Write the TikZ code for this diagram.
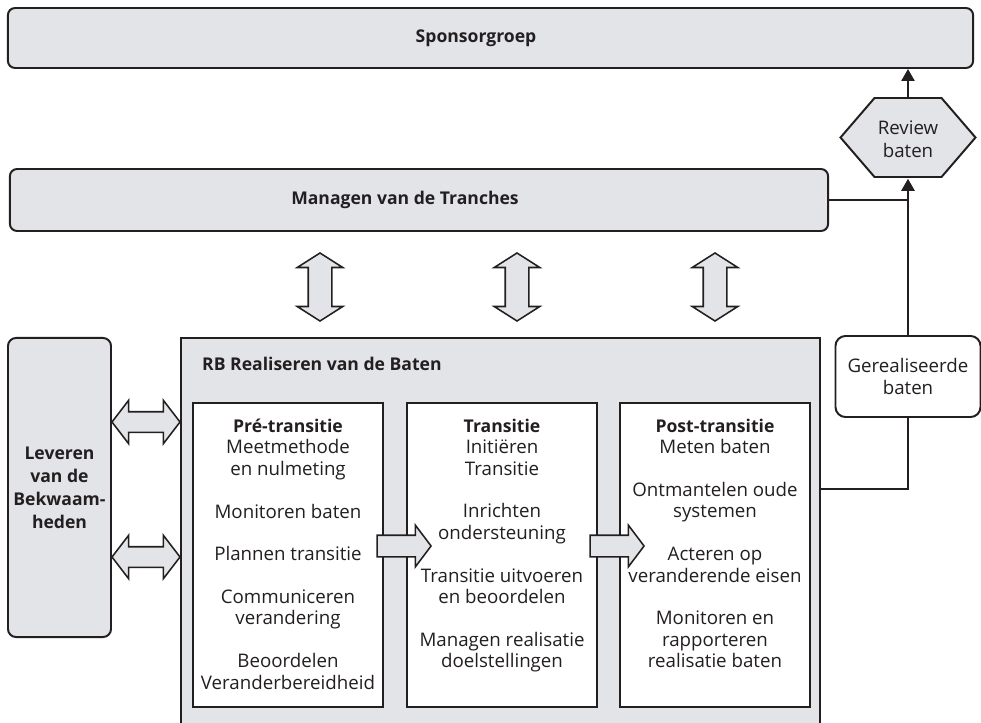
\documentclass[tikz,border=0pt]{standalone}
\usepackage{fontspec}
\setmainfont{Open Sans}
\usetikzlibrary{arrows.meta, positioning, shapes.arrows}

\definecolor{boxgray}{RGB}{227,228,232}
\definecolor{ink}{RGB}{35,31,32}
\newcommand{\phasehead}[1]{{\fontsize{12.5}{15.2}\selectfont\bfseries #1}}

\begin{document}
\begin{tikzpicture}[
    x=0.025cm, y=-0.025cm,
    % GLOBAL CFG
    color=ink,
    font=\fontsize{13.3}{15.2}\selectfont,
    >={Triangle[length=0.3cm, width=0.33cm]},
    % Styles
    band/.style={% grey rounded bars and blocks
        rectangle,
        rounded corners=0.18cm,
        draw,
        fill=boxgray,
        line width=1.4pt,
        },
    bandtext/.style={% bold headings
        font=\fontsize{12.5}{16.3}\selectfont\bfseries,
        align=center,
        inner sep=0pt,
        },
    plaintext/.style={% two-line labels
        font=\fontsize{13.3}{16.3}\selectfont,
        align=center,
        },
    phase/.style={% white boxes for the phases
        rectangle,
        draw,
        fill=white,
        line width=1.4pt,
        minimum width=4.75cm,
        minimum height=7.6cm,
        },
    phasetext/.style={% text list inside a phase box
        align=center,
        inner sep=0pt,
        },
    flow/.style={% grey arrow from phase to phase
        single arrow,
        draw,
        fill=boxgray,
        line width=1.1pt,
        minimum height=1.35cm,
        inner xsep=0pt,
        inner ysep=0.25cm,
        single arrow head extend=0.25cm,
        single arrow tip angle=106,
        },
    exchange/.style={% grey two-way arrows
        double arrow,
        draw,
        fill=boxgray,
        line width=1.1pt,
        minimum height=1.7cm,
        inner xsep=0pt,
        inner ysep=0.275cm,
        double arrow head extend=0.275cm,
        double arrow tip angle=115,
        },
    link/.style={% plain connectors
        line width=1.4pt,
        },
    ]

\useasboundingbox (0,0) rectangle (981,723);

    % Top bars
    \node [band, minimum width=24.125cm, minimum height=1.5cm] (sponsor) at (490.5,38) {};
    \node [bandtext] (sponsorlbl) at (476,38) {Sponsorgroep};
    \node [band, minimum width=20.45cm, minimum height=1.55cm] (tranches) at (419,200) {};
    \node [bandtext] (trancheslbl) at (405,200) {Managen van de Tranches};

    % Review hexagon
    \draw [link, fill=boxgray] (908,137.5) ++(-67.5,0) -- ++(34,-39.5) -- ++(67,0)
        -- ++(34,39.5) -- ++(-34,39.5) -- ++(-67,0) -- cycle;
    \node [plaintext, minimum width=3.375cm, minimum height=1.975cm] (review) at (908,139) {Review\\baten};

    % Realised benefits
    \node [plaintext, rectangle, rounded corners=0.25cm, draw, fill=white, line width=1.4pt,
        minimum width=3.625cm, minimum height=2.025cm] (realised) at (908,376.5) {Gerealiseerde\\baten};

    % Capability delivery block
    \node [band, bandtext, rounded corners=0.2cm, minimum width=2.575cm, minimum height=7.475cm]
        (supply) at (59.5,487.5) {Leveren\\van de\\Bekwaam-\\heden};

    % Main block with the phases
    \node [rectangle, draw, fill=boxgray, line width=1.4pt, minimum width=15.975cm, minimum height=10.05cm]
        (rb) at (500.5,539) {};
    \node [bandtext, anchor=west] (rblbl) at ([shift={(22,27)}]rb.north west) {RB Realiseren van de Baten};

    \node [phase] (pre) at (288,555) {};
    \node [phase] (trans) at (502,555) {};
    \node [phase] (post) at (715,555) {};

    \node [phasetext, below=0.42cm of pre.north] (pretxt) {%
        \phasehead{Pré-transitie}\\ Meetmethode\\ en nulmeting\\[15.2pt]
        Monitoren baten\\[15.2pt]
        Plannen transitie\\[15.2pt]
        Communiceren\\ verandering\\[15.2pt]
        Beoordelen\\ Veranderbereidheid};
    \node [phasetext, below=0.42cm of trans.north] (transtxt) {%
        \phasehead{Transitie}\\ Initiëren\\ Transitie\\[15.2pt]
        Inrichten\\ ondersteuning\\[15.2pt]
        Transitie uitvoeren\\ en beoordelen\\[15.2pt]
        Managen realisatie\\ doelstellingen};
    \node [phasetext, below=0.42cm of post.north] (posttxt) {%
        \phasehead{Post-transitie}\\ Meten baten\\[15.2pt]
        Ontmantelen oude\\ systemen\\[15.2pt]
        Acteren op\\ veranderende eisen\\[15.2pt]
        Monitoren en\\ rapporteren\\ realisatie baten};

    % Block arrows
    \node [flow] (flow1) at (400,546) {};
    \node [flow] (flow2) at (613,546) {};
    \foreach \ay [count=\i] in {422,557}
        \node [exchange, inner ysep=0.2375cm, double arrow head extend=0.2875cm, double arrow tip angle=105]
            (side\i) at (146,\ay) {};
    \foreach \ax [count=\i] in {320,517,715}
        \node [exchange, rotate=90] (sync\i) at (\ax,287) {};

    % Connectors
    \coordinate (rbout) at (820,489);
    \draw [link, ->] (review.north) -- (review.north |- sponsor.south);
    \draw [link, ->] (realised.north) -- (review.south);
    \draw [link] (tranches.east) -- (tranches.east -| realised.north);
    \draw [link] (realised.south) |- (rbout);

\end{tikzpicture}
\end{document}
